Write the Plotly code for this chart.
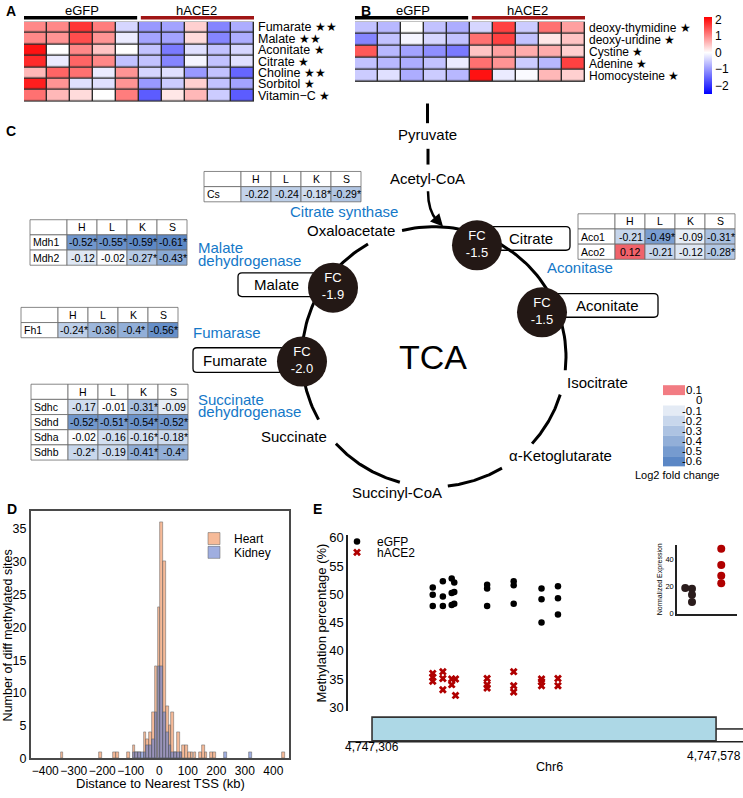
import numpy as np
import plotly.graph_objects as go

W, H = 743, 798
FONT = "Liberation Sans"

# ---------------- Panel A / B heatmap data ----------------
GROUPS = ["eGFP", "hACE2"]
A_METABOLITES = ["Fumarate", "Malate", "Aconitate", "Citrate", "Choline", "Sorbitol", "Vitamin−C"]
A_STARS = [2, 2, 1, 1, 2, 1, 1]
A_VALUES = [
    [1.0, 1.0, 1.7, 1.1, -0.4, -1.0, -0.9, 0.4, -1.2, -0.8],
    [1.0, 0.9, 1.5, 0.9, -0.2, -0.9, -0.9, 0.3, -1.2, -0.8],
    [2.0, 0.0, 1.0, 0.5, 0.0, -0.6, -1.3, -0.3, -0.6, -0.4],
    [1.8, -0.2, 1.3, 1.0, -0.6, -0.6, -1.2, -0.1, -0.6, -0.3],
    [0.6, 1.3, 1.2, -0.2, 0.9, -0.4, -0.3, -1.0, -0.6, -1.5],
    [1.9, 0.9, -0.3, -0.3, 0.9, -1.0, -0.5, 0.4, -0.6, -0.9],
    [1.2, 0.6, 0.3, 0.0, 1.1, -1.6, 0.2, 0.6, -0.5, -1.6],
]
B_METABOLITES = ["deoxy-thymidine", "deoxy-uridine", "Cystine", "Adenine", "Homocysteine"]
B_STARS = [1, 1, 1, 1, 1]
B_VALUES = [
    [-0.6, -0.7, 0.0, -0.6, -0.8, -0.4, 1.6, -0.5, 1.2, 0.8],
    [-1.2, -0.6, -0.1, -0.4, -0.6, 1.2, 1.6, -0.6, 0.2, 0.5],
    [1.4, -0.7, -0.9, -1.1, -1.3, 0.5, 0.8, 0.7, 0.7, 0.4],
    [-0.6, -0.7, -0.8, -0.6, -0.2, 1.2, 0.9, -0.5, -0.7, 1.6],
    [-0.5, -0.3, -0.8, -0.5, -0.7, 2.0, -0.2, -0.05, 0.6, 0.4],
]
CB_TICKS = [-2, -1, 0, 1, 2]

# ---------------- Panel C data ----------------
TABLE_COLS = ["H", "L", "K", "S"]
CS_GENES = ["Cs"]
CS_VALUES = [[-0.22, -0.24, -0.18, -0.29]]
CS_SIG = [[0, 0, 1, 1]]
MDH_GENES = ["Mdh1", "Mdh2"]
MDH_VALUES = [[-0.52, -0.55, -0.59, -0.61], [-0.12, -0.02, -0.27, -0.43]]
MDH_SIG = [[1, 1, 1, 1], [0, 0, 1, 1]]
FH_GENES = ["Fh1"]
FH_VALUES = [[-0.24, -0.36, -0.4, -0.56]]
FH_SIG = [[1, 0, 1, 1]]
SDH_GENES = ["Sdhc", "Sdhd", "Sdha", "Sdhb"]
SDH_VALUES = [[-0.17, -0.01, -0.31, -0.09], [-0.52, -0.51, -0.54, -0.52],
              [-0.02, -0.16, -0.16, -0.18], [-0.2, -0.19, -0.41, -0.4]]
SDH_SIG = [[0, 0, 1, 0], [1, 1, 1, 1], [0, 0, 1, 1], [1, 0, 1, 1]]
ACO_GENES = ["Aco1", "Aco2"]
ACO_VALUES = [[-0.21, -0.49, -0.09, -0.31], [0.12, -0.21, -0.12, -0.28]]
ACO_SIG = [[0, 1, 0, 1], [0, 0, 0, 1]]
FC_METABOLITES = ["Citrate", "Aconitate", "Malate", "Fumarate"]
FC_VALUES = [-1.5, -1.5, -1.9, -2.0]
LEGEND_STEPS = [0.1, 0, -0.1, -0.2, -0.3, -0.4, -0.5, -0.6]

# ---------------- Panel D data ----------------
HIST_CENTERS = [-341, -207, -157, -147, -108, -89, -79, -69, -60, -50, -41, -31, -21, -11, -1,
                8, 18, 28, 37, 47, 57, 67, 76, 86, 96, 105, 115, 125, 144, 154, 164, 184, 193,
                233, 319, 436]
HEART_COUNTS = [1, 1, 1, 1, 1, 2, 1, 1, 0, 4, 3, 4, 7, 14, 23,
                36, 30, 8, 5, 7, 1, 4, 1, 2, 2, 1, 1, 1, 1, 2, 1, 1, 1,
                0, 0, 1]
KIDNEY_COUNTS = [0, 0, 0, 0, 0, 1, 1, 1, 1, 1, 2, 2, 3, 7, 14,
                 14, 7, 4, 2, 1, 1, 1, 1, 0, 0, 0, 0, 0, 0, 0, 0, 0, 0,
                 1, 1, 0]
D_XTICKS = [-400, -300, -200, -100, 0, 100, 200, 300, 400]
D_YTICKS = [0, 5, 10, 15, 20, 25, 30, 35]

# ---------------- Panel E data ----------------
GENE_START, GENE_END = 4747306, 4747578
EGFP_POS = [4747354] * 3 + [4747362] * 3 + [4747369] * 3 + [4747371] * 3 + [4747397] * 3 + \
           [4747418] * 3 + [4747440] * 3 + [4747453] * 3
EGFP_VAL = [51.2, 49.9, 47.9, 52.3, 49.6, 47.9, 52.8, 50.2, 48.1, 52.1, 50.4, 48.3,
            51.7, 51.0, 47.9, 52.3, 51.6, 48.3, 51.0, 49.1, 45.0, 51.4, 49.3, 46.4]
HACE2_POS = [4747354] * 3 + [4747362] * 3 + [4747369] * 2 + [4747372] * 2 + [4747397] * 3 + \
            [4747418] * 3 + [4747440] * 3 + [4747453] * 2
HACE2_VAL = [36.0, 35.3, 34.6, 36.3, 35.1, 33.1, 35.0, 34.0, 35.0, 32.1,
             35.1, 34.0, 33.4, 36.3, 33.8, 32.7, 35.0, 34.5, 33.8, 35.1, 33.8]
E_YTICKS = [30, 35, 40, 45, 50, 55, 60]
INSET_EGFP_X = [0.55, 1.0, 1.0, 1.0]
INSET_EGFP = [19, 18.5, 14, 8.7]
INSET_HACE2_X = [2.95, 2.95, 2.95, 2.95]
INSET_HACE2 = [48, 36, 28, 22.5]


def ax_dom(x0, x1):
    return [x0 / W, x1 / W]


def ay_dom(top, bottom):
    return [1 - bottom / H, 1 - top / H]


def py(y):
    return 1 - y / H


annotations = []
shapes = []


def T(x, y, text, size=15, color="black", xanchor="center", yanchor="middle", angle=0, bold=False):
    annotations.append(dict(x=x, y=y, xref="x6", yref="y6", text=("<b>%s</b>" % text) if bold else text,
                            showarrow=False, xanchor=xanchor, yanchor=yanchor, textangle=angle,
                            font=dict(size=size, color=color, family=FONT), borderpad=0))


fig = go.Figure()

# ---------- heatmaps ----------
ZMIN, ZMAX = -2.5, 2.15
mid = -ZMIN / (ZMAX - ZMIN)
colorscale = [[0, "#0000ff"], [mid, "#ffffff"], [1, "#ff0000"]]

fig.add_trace(go.Heatmap(z=A_VALUES, coloraxis="coloraxis", xgap=1.4, ygap=1.4,
                         xaxis="x", yaxis="y", hoverinfo="skip"))
fig.add_trace(go.Heatmap(z=B_VALUES, coloraxis="coloraxis", xgap=1.4, ygap=1.4,
                         xaxis="x2", yaxis="y2", hoverinfo="skip"))

for xr, yr, nrow in (("x", "y", len(A_VALUES)), ("x2", "y2", len(B_VALUES))):
    shapes.append(dict(type="rect", xref=xr, yref=yr, x0=-0.5, x1=9.5, y0=-0.5, y1=nrow - 0.5,
                       fillcolor="#2b2b2b", line=dict(color="#2b2b2b", width=1.5), layer="below"))
    shapes.append(dict(type="line", xref=xr, yref="paper", x0=-0.5, x1=4.42, y0=py(13), y1=py(13),
                       line=dict(color="black", width=3.5)))
    shapes.append(dict(type="line", xref=xr, yref="paper", x0=4.58, x1=9.5, y0=py(13), y1=py(13),
                       line=dict(color="#a01515", width=3.5)))
    for gi, g in enumerate(GROUPS):
        annotations.append(dict(x=2 + 5 * gi, y=py(6), xref=xr, yref="paper", text=g, showarrow=False,
                                font=dict(size=13, family=FONT), yanchor="middle"))

star = "<span style='font-size:12px'>%s</span>"
A_TOP, A_RH = 17, (98 - 17) / len(A_METABOLITES)
for i, (m, s) in enumerate(zip(A_METABOLITES, A_STARS)):
    T(257, A_TOP + (i + 0.5) * A_RH, m + " " + star % ("★" * s), 12.5, xanchor="left")
B_TOP, B_RH = 17, (78 - 17) / len(B_METABOLITES)
for i, (m, s) in enumerate(zip(B_METABOLITES, B_STARS)):
    T(588, B_TOP + (i + 0.5) * B_RH, m + " " + star % ("★" * s), 12, xanchor="left")

# ---------- panel C ----------
CX, CY, R = 434, 357, 132
RING_SEGMENTS = [(104, -6), (-17, -42), (-59, -84), (-105, -138), (-151, -240)]
rx, ry = [], []
for a0, a1 in RING_SEGMENTS:
    t = np.radians(np.linspace(a0, a1, 60))
    rx += list(CX + R * np.cos(t)) + [None]
    ry += list(CY - R * np.sin(t)) + [None]
fig.add_trace(go.Scatter(x=rx, y=ry, mode="lines", line=dict(color="black", width=3),
                         xaxis="x6", yaxis="y6", showlegend=False, hoverinfo="skip"))

FC_POS_X = [477, 542, 333, 302]
FC_POS_Y = [244, 312, 287, 362]
fig.add_trace(go.Scatter(x=FC_POS_X, y=FC_POS_Y, mode="markers+text",
                         marker=dict(size=50, color="#231815", line=dict(width=0)),
                         text=["FC<br>%.1f" % v for v in FC_VALUES], textposition="middle center",
                         textfont=dict(color="white", size=13, family=FONT),
                         xaxis="x6", yaxis="y6", showlegend=False, hoverinfo="skip"))


def rounded(x0, y0, x1, y1, r=4):
    return (f"M {x0+r} {y0} L {x1-r} {y0} Q {x1} {y0} {x1} {y0+r} L {x1} {y1-r} Q {x1} {y1} {x1-r} {y1} "
            f"L {x0+r} {y1} Q {x0} {y1} {x0} {y1-r} L {x0} {y0+r} Q {x0} {y0} {x0+r} {y0} Z")


BOXES = {"Citrate": (488, 225, 570, 249, 531, 237), "Aconitate": (552, 293, 658, 317, 607, 305),
         "Malate": (238, 272, 320, 296, 276, 284), "Fumarate": (193, 348, 290, 373, 235, 361)}
for name in FC_METABOLITES:
    x0, y0, x1, y1, tx, ty = BOXES[name]
    shapes.append(dict(type="path", xref="x6", yref="y6", path=rounded(x0, y0, x1, y1),
                       fillcolor="white", line=dict(color="black", width=1.3), layer="below"))
    T(tx, ty, name, 15)


def fc_color(v):
    if v >= 0:
        t = min(v / 0.12, 1.0)
        c = (240, 98, 106)
    else:
        t = min(-v / 0.6, 1.0)
        c = (91, 135, 197)
    return "rgb(%d,%d,%d)" % tuple(round(255 + (ci - 255) * t) for ci in c)


def fmt(v, s):
    txt = ("%.2f" % v).rstrip("0")
    return txt + ("*" if s else "")


RH, NW, VW = 15.4, 37, 30


def draw_table(left, top, genes, values, sig):
    xs = [left, left + NW] + [left + NW + VW * (k + 1) for k in range(4)]
    for r in range(len(genes) + 1):
        y0, y1 = top + r * RH, top + (r + 1) * RH
        for c in range(5):
            fill = "white" if (r == 0 or c == 0) else fc_color(values[r - 1][c - 1])
            shapes.append(dict(type="rect", xref="x6", yref="y6", x0=xs[c], x1=xs[c + 1], y0=y0, y1=y1,
                               fillcolor=fill, line=dict(color="#6a6a6a", width=0.8), layer="below"))
            if r == 0 and c > 0:
                T((xs[c] + xs[c + 1]) / 2, (y0 + y1) / 2, TABLE_COLS[c - 1], 10.5)
            elif c == 0 and r > 0:
                T(xs[0] + 1.5, (y0 + y1) / 2, genes[r - 1], 10.5, xanchor="left")
            elif r > 0:
                T((xs[c] + xs[c + 1]) / 2 + 0.5, (y0 + y1) / 2, fmt(values[r - 1][c - 1], sig[r - 1][c - 1]), 10.5)


draw_table(204, 169, CS_GENES, CS_VALUES, CS_SIG)
draw_table(30, 218, MDH_GENES, MDH_VALUES, MDH_SIG)
draw_table(21, 307, FH_GENES, FH_VALUES, FH_SIG)
draw_table(31, 385, SDH_GENES, SDH_VALUES, SDH_SIG)
draw_table(578, 212, ACO_GENES, ACO_VALUES, ACO_SIG)

BLUE = "#1478c8"
T(344, 210, "Citrate synthase", 15, BLUE)
T(197, 246, "Malate", 15, BLUE, xanchor="left")
T(197, 259, "dehydrogenase", 15, BLUE, xanchor="left")
T(192, 333, "Fumarase", 15, BLUE, xanchor="left")
T(197, 401, "Succinate", 15, BLUE, xanchor="left")
T(197, 413, "dehydrogenase", 15, BLUE, xanchor="left")
T(580, 266, "Aconitase", 15, BLUE)

T(351, 229, "Oxaloacetate", 15)
T(597, 383, "Isocitrate", 15)
T(560, 457, "α-Ketoglutarate", 15)
T(397, 495, "Succinyl-CoA", 15)
T(294, 438, "Succinate", 15)
T(433, 357, "TCA", 34)
T(427, 131, "Pyruvate", 15)
T(427, 176, "Acetyl-CoA", 15)

shapes.append(dict(type="line", xref="x6", yref="y6", x0=427.5, x1=427.5, y0=100, y1=120,
                   line=dict(color="black", width=3)))
shapes.append(dict(type="line", xref="x6", yref="y6", x0=428, x1=428, y0=146, y1=162,
                   line=dict(color="black", width=3)))
shapes.append(dict(type="path", xref="x6", yref="y6", path="M 428 189 C 428 204, 431 212, 437 219",
                   line=dict(color="black", width=2.5)))
annotations.append(dict(x=443, y=225, xref="x6", yref="y6", ax=435, ay=216, axref="x6", ayref="y6",
                        text="", showarrow=True, arrowhead=2, arrowsize=1, arrowwidth=2.5, arrowcolor="black"))

# fold-change legend
for k, v in enumerate(LEGEND_STEPS):
    y0 = 386 + k * 10.3
    shapes.append(dict(type="rect", xref="x6", yref="y6", x0=663, x1=685, y0=y0, y1=y0 + 10.3,
                       fillcolor=fc_color(v), line=dict(width=0), layer="below"))
    T(703, y0 + 5.2, ("%g" % v), 11.5, xanchor="right")
T(677, 477, "Log2 fold change", 11)

# ---------- panel D ----------
hx = [c for c, n in zip(HIST_CENTERS, HEART_COUNTS) if n > 0]
hy = [n for n in HEART_COUNTS if n > 0]
kx = [c for c, n in zip(HIST_CENTERS, KIDNEY_COUNTS) if n > 0]
ky = [n for n in KIDNEY_COUNTS if n > 0]
fig.add_trace(go.Bar(x=hx, y=hy, width=9.4, name="Heart", xaxis="x3", yaxis="y3",
                     marker=dict(color="rgba(242,160,112,0.72)", line=dict(color="rgba(90,90,90,0.7)", width=0.7)),
                     legend="legend", hoverinfo="skip"))
fig.add_trace(go.Bar(x=kx, y=ky, width=9.4, name="Kidney", xaxis="x3", yaxis="y3",
                     marker=dict(color="rgba(100,125,205,0.62)", line=dict(color="rgba(90,90,90,0.7)", width=0.7)),
                     legend="legend2", hoverinfo="skip"))
T(8, 640, "Number of diff methylated sites", 12.5, angle=-90)
T(160, 790, "Distance to Nearest TSS (kb)", 13)

# ---------- panel E ----------
fig.add_trace(go.Scatter(x=EGFP_POS, y=EGFP_VAL, mode="markers", name="eGFP", xaxis="x4", yaxis="y4",
                         marker=dict(size=6.5, color="black"), legend="legend3", hoverinfo="skip"))
fig.add_trace(go.Scatter(x=HACE2_POS, y=HACE2_VAL, mode="markers", name="hACE2", xaxis="x4", yaxis="y4",
                         marker=dict(size=7, color="#b00000", symbol="x", line=dict(width=0)),
                         legend="legend4", hoverinfo="skip"))
fig.add_trace(go.Scatter(x=INSET_EGFP_X, y=INSET_EGFP, mode="markers", xaxis="x5", yaxis="y5",
                         marker=dict(size=8, color="#2a1c1c"), showlegend=False, hoverinfo="skip", cliponaxis=False))
fig.add_trace(go.Scatter(x=INSET_HACE2_X, y=INSET_HACE2, mode="markers", xaxis="x5", yaxis="y5",
                         marker=dict(size=8, color="#b00000"), showlegend=False, hoverinfo="skip", cliponaxis=False))

E_X0 = GENE_START - 19.0
E_X1 = GENE_END + 21.3
shapes.append(dict(type="line", xref="paper", yref="paper", x0=348 / W, x1=1, y0=py(748), y1=py(748),
                   line=dict(color="#222", width=1.5)))
shapes.append(dict(type="rect", xref="x4", yref="paper", x0=GENE_START, x1=GENE_END, y0=py(747), y1=py(723),
                   fillcolor="#add8e6", line=dict(color="#333", width=1.6)))
shapes.append(dict(type="line", xref="x4", yref="paper", x0=GENE_END, x1=E_X1, y0=py(735), y1=py(735),
                   line=dict(color="#222", width=1.5)))
annotations.append(dict(x=GENE_START, y=py(762), xref="x4", yref="paper", text=f"{GENE_START:,}",
                        showarrow=False, font=dict(size=12, family=FONT)))
T(742, 762, f"{GENE_END:,}", 12, xanchor="right")
T(549, 774, "Chr6", 12.5)
T(322, 628, "Methylation percentage (%)", 13, angle=-90)

# panel letters
for lab, x, y in (("A", 11, 6), ("B", 366, 6), ("C", 11, 128), ("D", 12, 512), ("E", 317, 512)):
    T(x, y, lab, 14, bold=True)

axis_off = dict(visible=False)
leg = dict(xanchor="left", yanchor="top", bgcolor="rgba(0,0,0,0)", borderwidth=0,
           font=dict(size=12, family=FONT), itemwidth=30, tracegroupgap=0)

fig.update_layout(
    width=W, height=H, margin=dict(l=0, r=0, t=0, b=0),
    paper_bgcolor="white", plot_bgcolor="rgba(0,0,0,0)",
    font=dict(family=FONT, color="black"),
    barmode="overlay", bargap=0,
    coloraxis=dict(colorscale=colorscale, cmin=ZMIN, cmax=ZMAX,
                   colorbar=dict(x=704 / W, xanchor="left", xpad=0, y=py(12), yanchor="top", ypad=0,
                                 len=78 / H, lenmode="fraction", thickness=8, outlinewidth=0,
                                 tickvals=CB_TICKS, ticktext=[("−%d" % -t) if t < 0 else str(t) for t in CB_TICKS],
                                 ticks="", tickfont=dict(size=12, family=FONT))),
    xaxis=dict(domain=ax_dom(24, 254), range=[-0.5, 9.5], anchor="y", **axis_off),
    yaxis=dict(domain=ay_dom(17, 98), range=[6.5, -0.5], anchor="x", **axis_off),
    xaxis2=dict(domain=ax_dom(355, 585), range=[-0.5, 9.5], anchor="y2", **axis_off),
    yaxis2=dict(domain=ay_dom(17, 78), range=[4.5, -0.5], anchor="x2", **axis_off),
    xaxis3=dict(domain=ax_dom(31, 289), range=[-450, 455], anchor="y3", tickvals=D_XTICKS, tickangle=0,
                showgrid=False, zeroline=False, showline=True, mirror=True, linecolor="#4a4a4a", linewidth=2,
                ticks="", tickfont=dict(size=12, family=FONT)),
    yaxis3=dict(domain=ay_dom(514, 765), range=[0, 37.7], anchor="x3", tickvals=D_YTICKS, showgrid=False,
                zeroline=False, showline=True, mirror=True, linecolor="#4a4a4a", linewidth=2, ticks="",
                tickfont=dict(size=12.5, family=FONT)),
    xaxis4=dict(domain=ax_dom(348, 743), range=[E_X0, E_X1], anchor="y4", **axis_off),
    yaxis4=dict(domain=ay_dom(538, 717), range=[29.3, 60.5], anchor="x4", tickvals=E_YTICKS, showgrid=False,
                zeroline=False, showline=True, linecolor="#222", linewidth=1.5, ticks="",
                tickfont=dict(size=13, family=FONT)),
    xaxis5=dict(domain=ax_dom(677, 737), range=[0, 4], anchor="y5", showticklabels=False, showgrid=False,
                zeroline=False, showline=True, linecolor="#222", linewidth=1.5, ticks=""),
    yaxis5=dict(domain=ay_dom(548, 618), range=[0, 51], anchor="x5", tickvals=[0, 20, 40], showgrid=False,
                zeroline=False, showline=True, linecolor="#222", linewidth=1.5, ticks="",
                tickfont=dict(size=7.5, family=FONT),
                title=dict(text="Normalized Expression", font=dict(size=7, family=FONT), standoff=2)),
    xaxis6=dict(domain=[0, 1], range=[0, W], anchor="y6", **axis_off),
    yaxis6=dict(domain=[0, 1], range=[H, 0], anchor="x6", **axis_off),
    legend=dict(x=194 / W, y=py(527), **leg),
    legend2=dict(x=194 / W, y=py(541), **leg),
    legend3=dict(x=337 / W, y=py(530), **leg),
    legend4=dict(x=337 / W, y=py(541), **leg),
    annotations=annotations, shapes=shapes,
)

fig.write_html("out.html", config={"displayModeBar": False},
               post_script="document.body.style.margin='0';document.body.style.padding='0';")
